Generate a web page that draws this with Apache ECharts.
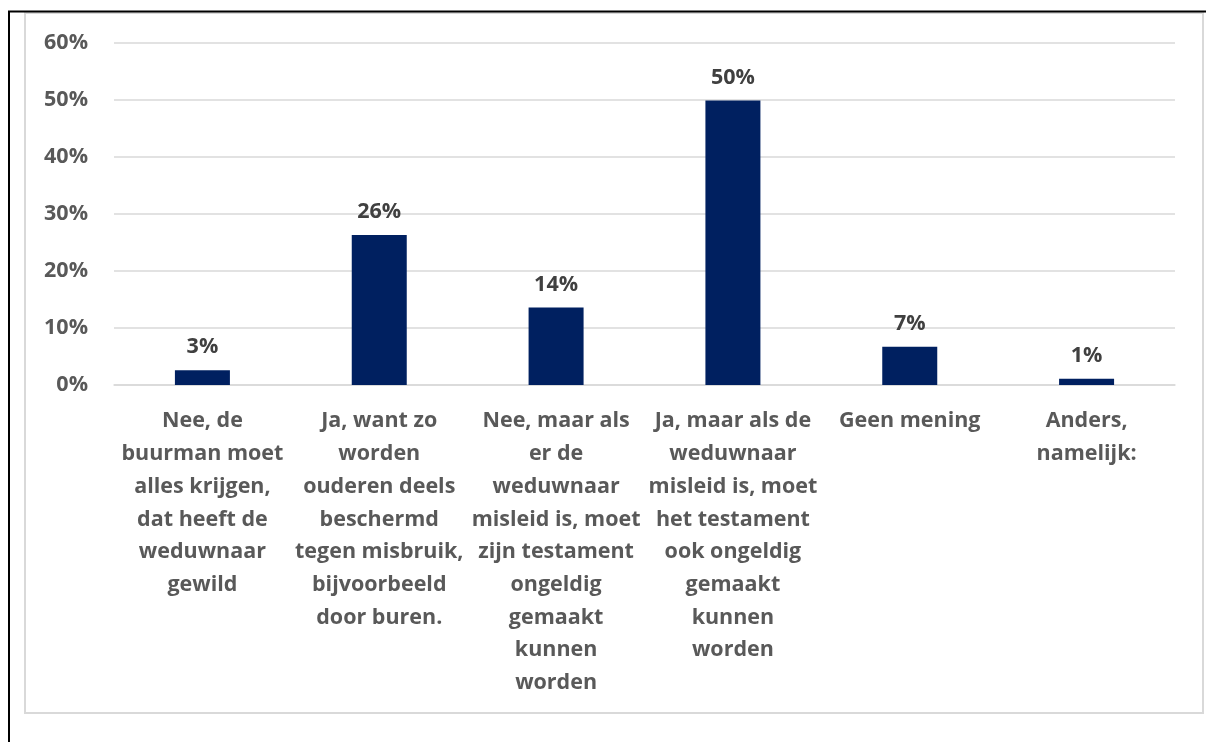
<!DOCTYPE html>
<html>
<head>
<meta charset="utf-8">
<script src="https://cdn.jsdelivr.net/npm/echarts@6/dist/echarts.min.js"></script>
<style>
html,body{margin:0;padding:0;background:#fff;}
#chart{width:1208px;height:742px;}
</style>
</head>
<body>
<div id="chart"></div>
<script>
var categories = [
  "Nee, de\nbuurman moet\nalles krijgen,\ndat heeft de\nweduwnaar\ngewild",
  "Ja, want zo\nworden\nouderen deels\nbeschermd\ntegen misbruik,\nbijvoorbeeld\ndoor buren.",
  "Nee, maar als\ner de\nweduwnaar\nmisleid is, moet\nzijn testament\nongeldig\ngemaakt\nkunnen\nworden",
  "Ja, maar als de\nweduwnaar\nmisleid is, moet\nhet testament\nook ongeldig\ngemaakt\nkunnen\nworden",
  "Geen mening",
  "Anders,\nnamelijk:"
];
var values = [0.026, 0.263, 0.136, 0.499, 0.067, 0.011];
var yTicks = [0, 0.1, 0.2, 0.3, 0.4, 0.5, 0.6];

var font = "'Open Sans', 'Noto Sans', sans-serif";
var chart = echarts.init(document.getElementById('chart'), null, {renderer: 'canvas'});
chart.setOption({
  animation: false,
  backgroundColor: '#ffffff',
  grid: {left: 114, right: 33, top: 43, bottom: 357, containLabel: false},
  graphic: [
    {type: 'rect', shape: {x: 25, y: 13, width: 1178, height: 700}, style: {fill: 'none', stroke: '#d9d9d9', lineWidth: 2}, z: -1},
    {type: 'line', shape: {x1: 9, y1: 11, x2: 9, y2: 742}, style: {stroke: '#000', lineWidth: 2}},
    {type: 'line', shape: {x1: 8, y1: 11.5, x2: 1206, y2: 11.5}, style: {stroke: '#000', lineWidth: 2}}
  ],
  xAxis: {
    type: 'category',
    data: categories,
    axisLine: {show: true, lineStyle: {color: '#d9d9d9', width: 1.5}},
    axisTick: {show: false},
    axisLabel: {
      interval: 0,
      margin: 20,
      color: '#595959',
      fontFamily: font,
      fontWeight: 'bold',
      fontSize: 21.5,
      lineHeight: 32.7,
      align: 'center'
    }
  },
  yAxis: {
    type: 'value',
    min: yTicks[0],
    max: yTicks[yTicks.length - 1],
    interval: 0.1,
    axisLine: {show: false},
    axisTick: {show: false},
    splitLine: {lineStyle: {color: '#d9d9d9', width: 1.5}},
    axisLabel: {
      margin: 26,
      color: '#595959',
      fontFamily: font,
      fontWeight: 'bold',
      fontSize: 21.5,
      formatter: function (v) { return Math.round(v * 100) + '%'; }
    }
  },
  series: [{
    type: 'bar',
    data: values,
    barWidth: 55,
    itemStyle: {color: '#002060'},
    label: {
      show: true,
      position: 'top',
      distance: 12,
      color: '#404040',
      fontFamily: font,
      fontWeight: 'bold',
      fontSize: 21.5,
      formatter: function (p) { return Math.round(p.value * 100) + '%'; }
    }
  }]
});
</script>
</body>
</html>
